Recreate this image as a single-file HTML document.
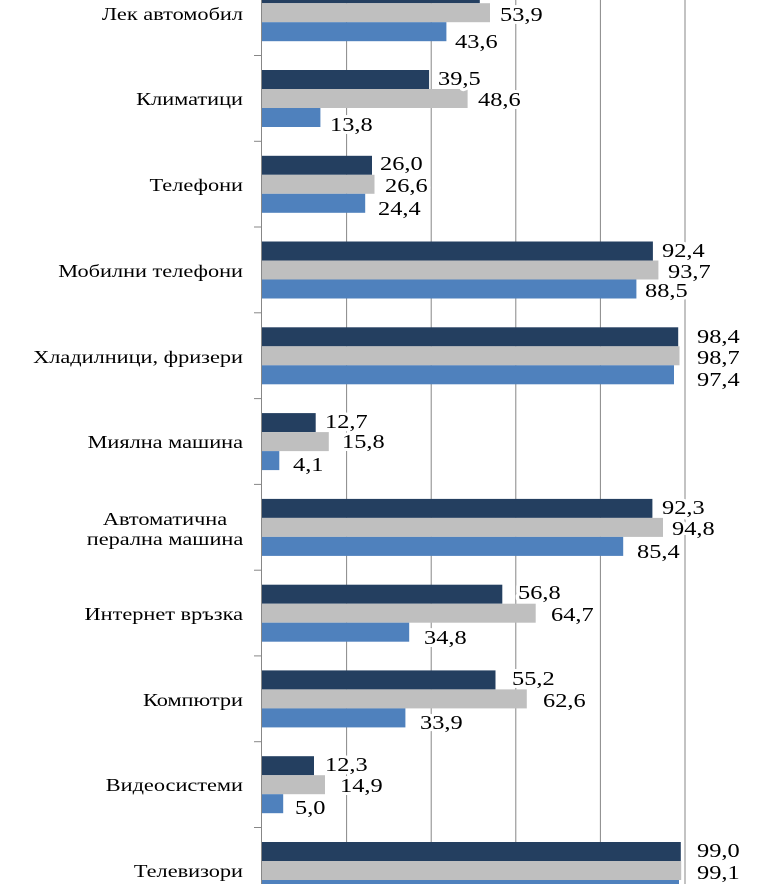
<!DOCTYPE html>
<html><head><meta charset="utf-8"><style>
html,body{margin:0;padding:0;background:#fff;width:768px;height:884px;overflow:hidden}
svg{display:block}
text{font-family:"Liberation Serif",serif;fill:#000}
.v{font-size:20px;paint-order:stroke;stroke:#fff;stroke-width:6px;stroke-linejoin:round}
.c{font-size:18px}
</style></head><body>
<svg width="768" height="884" viewBox="0 0 768 884" xmlns="http://www.w3.org/2000/svg">
<g stroke="#878787" stroke-width="1">
<line x1="346.6" y1="0" x2="346.6" y2="884"/>
<line x1="431.2" y1="0" x2="431.2" y2="884"/>
<line x1="515.8" y1="0" x2="515.8" y2="884"/>
<line x1="600.4" y1="0" x2="600.4" y2="884"/>
<line x1="685" y1="0" x2="685" y2="884"/>
</g>
<g>
<rect x="262" y="-15.8" width="217.8" height="19" fill="#243F60"/>
<rect x="262" y="3.2" width="228" height="19" fill="#BFBFBF"/>
<rect x="262" y="22.2" width="184.4" height="19" fill="#4F81BD"/>
<rect x="262" y="70" width="167.1" height="19" fill="#243F60"/>
<rect x="262" y="89" width="205.6" height="19" fill="#BFBFBF"/>
<rect x="262" y="108" width="58.4" height="19" fill="#4F81BD"/>
<rect x="262" y="155.8" width="110" height="19" fill="#243F60"/>
<rect x="262" y="174.8" width="112.5" height="19" fill="#BFBFBF"/>
<rect x="262" y="193.8" width="103.2" height="19" fill="#4F81BD"/>
<rect x="262" y="241.5" width="390.9" height="19" fill="#243F60"/>
<rect x="262" y="260.5" width="396.4" height="19" fill="#BFBFBF"/>
<rect x="262" y="279.5" width="374.4" height="19" fill="#4F81BD"/>
<rect x="262" y="327.3" width="416.2" height="19" fill="#243F60"/>
<rect x="262" y="346.3" width="417.5" height="19" fill="#BFBFBF"/>
<rect x="262" y="365.3" width="412" height="19" fill="#4F81BD"/>
<rect x="262" y="413.1" width="53.7" height="19" fill="#243F60"/>
<rect x="262" y="432.1" width="66.8" height="19" fill="#BFBFBF"/>
<rect x="262" y="451.1" width="17.3" height="19" fill="#4F81BD"/>
<rect x="262" y="498.9" width="390.4" height="19" fill="#243F60"/>
<rect x="262" y="517.9" width="401" height="19" fill="#BFBFBF"/>
<rect x="262" y="536.9" width="361.2" height="19" fill="#4F81BD"/>
<rect x="262" y="584.7" width="240.3" height="19" fill="#243F60"/>
<rect x="262" y="603.7" width="273.7" height="19" fill="#BFBFBF"/>
<rect x="262" y="622.7" width="147.2" height="19" fill="#4F81BD"/>
<rect x="262" y="670.4" width="233.5" height="19" fill="#243F60"/>
<rect x="262" y="689.4" width="264.8" height="19" fill="#BFBFBF"/>
<rect x="262" y="708.4" width="143.4" height="19" fill="#4F81BD"/>
<rect x="262" y="756.2" width="52" height="19" fill="#243F60"/>
<rect x="262" y="775.2" width="63" height="19" fill="#BFBFBF"/>
<rect x="262" y="794.2" width="21.2" height="19" fill="#4F81BD"/>
<rect x="262" y="842" width="418.8" height="19" fill="#243F60"/>
<rect x="262" y="861" width="419.2" height="19" fill="#BFBFBF"/>
<rect x="262" y="880" width="417" height="19" fill="#4F81BD"/>
</g>
<g stroke="#878787" stroke-width="1">
<line x1="261.5" y1="0" x2="261.5" y2="884"/>
<line x1="254" y1="55.5" x2="261.5" y2="55.5"/>
<line x1="254" y1="141.3" x2="261.5" y2="141.3"/>
<line x1="254" y1="227" x2="261.5" y2="227"/>
<line x1="254" y1="312.8" x2="261.5" y2="312.8"/>
<line x1="254" y1="398.6" x2="261.5" y2="398.6"/>
<line x1="254" y1="484.4" x2="261.5" y2="484.4"/>
<line x1="254" y1="570.2" x2="261.5" y2="570.2"/>
<line x1="254" y1="655.9" x2="261.5" y2="655.9"/>
<line x1="254" y1="741.7" x2="261.5" y2="741.7"/>
<line x1="254" y1="827.5" x2="261.5" y2="827.5"/>
</g>
<g>
<text class="v" transform="translate(500,21) scale(1.22,1)">53,9</text>
<text class="v" transform="translate(455,48) scale(1.22,1)">43,6</text>
<text class="v" transform="translate(438,85) scale(1.22,1)">39,5</text>
<text class="v" transform="translate(478,106) scale(1.22,1)">48,6</text>
<text class="v" transform="translate(330,131) scale(1.22,1)">13,8</text>
<text class="v" transform="translate(380,170) scale(1.22,1)">26,0</text>
<text class="v" transform="translate(385,192) scale(1.22,1)">26,6</text>
<text class="v" transform="translate(378,215) scale(1.22,1)">24,4</text>
<text class="v" transform="translate(662,257) scale(1.22,1)">92,4</text>
<text class="v" transform="translate(668,278) scale(1.22,1)">93,7</text>
<text class="v" transform="translate(645,297) scale(1.22,1)">88,5</text>
<text class="v" transform="translate(697,343) scale(1.22,1)">98,4</text>
<text class="v" transform="translate(697,364) scale(1.22,1)">98,7</text>
<text class="v" transform="translate(697,386) scale(1.22,1)">97,4</text>
<text class="v" transform="translate(325,428) scale(1.22,1)">12,7</text>
<text class="v" transform="translate(342,448) scale(1.22,1)">15,8</text>
<text class="v" transform="translate(293,471) scale(1.22,1)">4,1</text>
<text class="v" transform="translate(662,514) scale(1.22,1)">92,3</text>
<text class="v" transform="translate(672,535) scale(1.22,1)">94,8</text>
<text class="v" transform="translate(637,558) scale(1.22,1)">85,4</text>
<text class="v" transform="translate(518,599) scale(1.22,1)">56,8</text>
<text class="v" transform="translate(551,621) scale(1.22,1)">64,7</text>
<text class="v" transform="translate(424,644) scale(1.22,1)">34,8</text>
<text class="v" transform="translate(512,685) scale(1.22,1)">55,2</text>
<text class="v" transform="translate(543,707) scale(1.22,1)">62,6</text>
<text class="v" transform="translate(420,729) scale(1.22,1)">33,9</text>
<text class="v" transform="translate(325,771) scale(1.22,1)">12,3</text>
<text class="v" transform="translate(340,792) scale(1.22,1)">14,9</text>
<text class="v" transform="translate(295,814) scale(1.22,1)">5,0</text>
<text class="v" transform="translate(697,857) scale(1.22,1)">99,0</text>
<text class="v" transform="translate(697,879) scale(1.22,1)">99,1</text>
</g>
<g text-anchor="end">
<text class="c" transform="translate(243,20) scale(1.24,1)">Лек автомобил</text>
<text class="c" transform="translate(243,105) scale(1.24,1)">Климатици</text>
<text class="c" transform="translate(243,191) scale(1.24,1)">Телефони</text>
<text class="c" transform="translate(243,277) scale(1.24,1)">Мобилни телефони</text>
<text class="c" transform="translate(243,363) scale(1.24,1)">Хладилници, фризери</text>
<text class="c" transform="translate(243,448) scale(1.24,1)">Миялна машина</text>
<text class="c" transform="translate(243,620) scale(1.24,1)">Интернет връзка</text>
<text class="c" transform="translate(243,706) scale(1.24,1)">Компютри</text>
<text class="c" transform="translate(243,791) scale(1.24,1)">Видеосистеми</text>
<text class="c" transform="translate(243,877) scale(1.24,1)">Телевизори</text>
</g>
<g text-anchor="middle">
<text class="c" transform="translate(165,525) scale(1.24,1)">Автоматична</text>
<text class="c" transform="translate(165,545) scale(1.24,1)">перална машина</text>
</g>
</svg>
</body></html>
